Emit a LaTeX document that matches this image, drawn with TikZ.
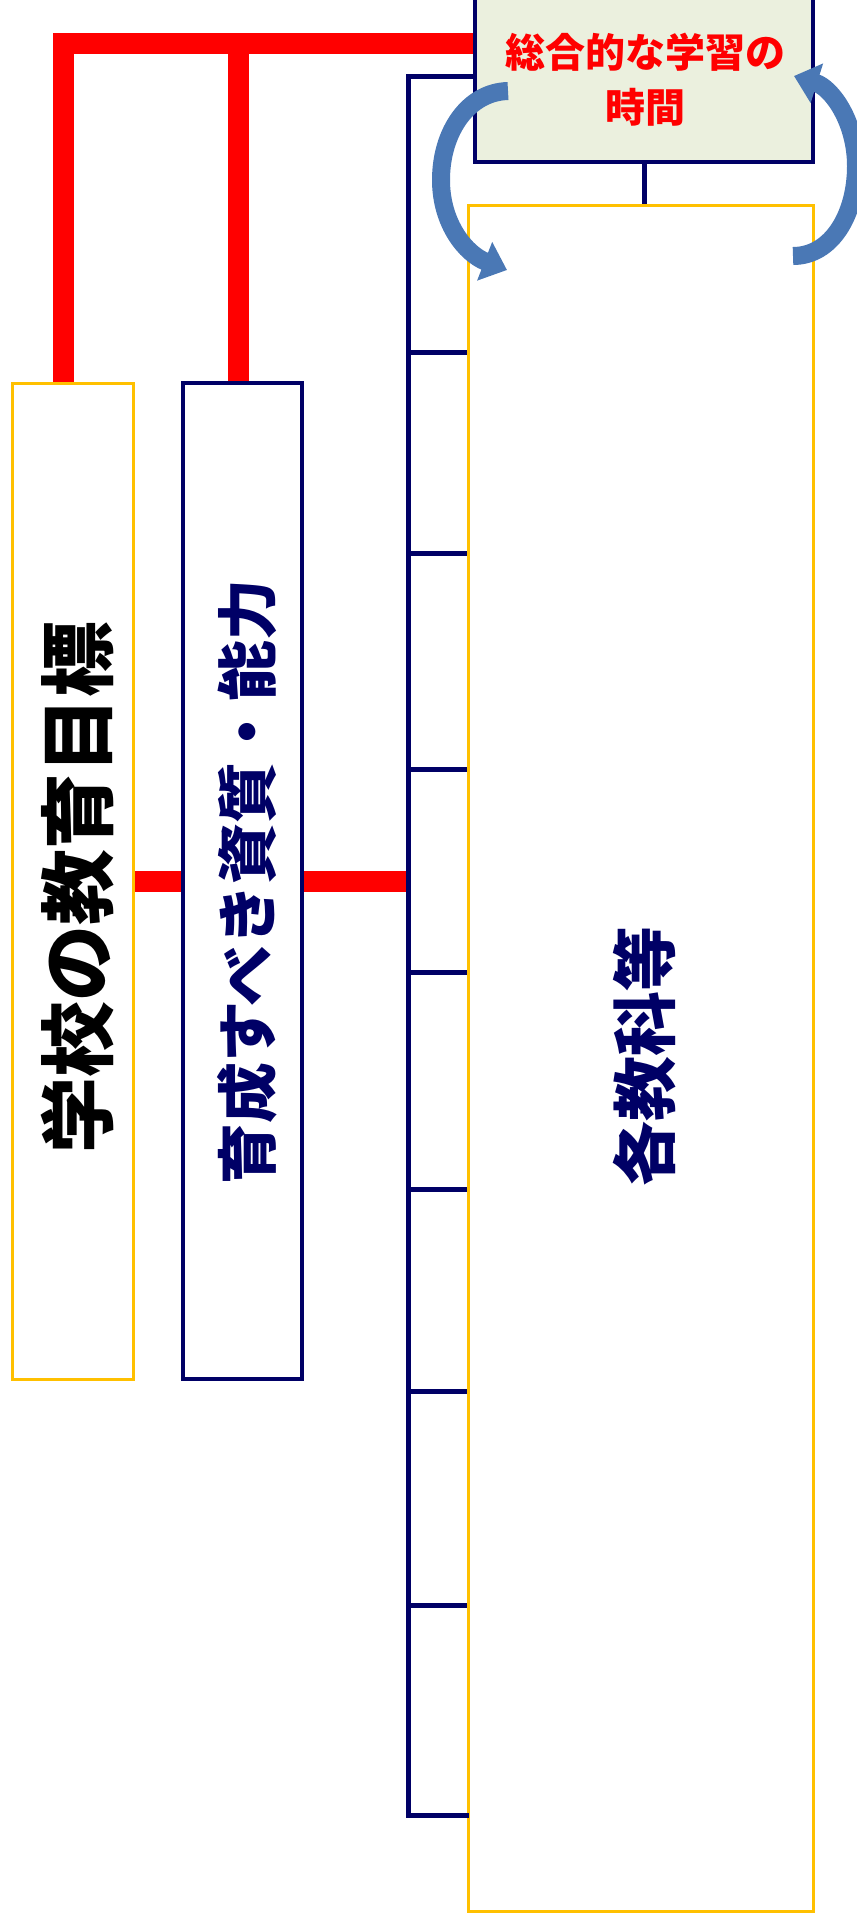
\documentclass[tikz,border=0pt]{standalone}
\usepackage{fontspec}
\newfontfamily\jpfont{Noto Sans CJK JP}
\usepackage{tikz}
\usetikzlibrary{shapes}
\usetikzlibrary{arrows.meta}
\usepackage{xcolor}

\definecolor{navy}{RGB}{0,0,102}
\definecolor{gold}{RGB}{255,192,0}
\definecolor{paleolive}{RGB}{235,240,222}
\definecolor{arrowblue}{RGB}{74,120,181}
\definecolor{arrowedge}{RGB}{56,93,138}

\tikzset{
  goldbox/.style={draw=gold, line width=3pt, rectangle, inner sep=0pt},
  navybox/.style={draw=navy, line width=4pt, rectangle, inner sep=0pt},
  redline/.style={draw=red, line width=21pt},
  navyline/.style={draw=navy, line width=5pt},
  bluearrow/.style={draw=arrowblue, line width=18pt, -{Triangle[width=40pt,length=24pt]}},
}

\begin{document}
\begin{tikzpicture}[x=1pt,y=-1pt]
\useasboundingbox (0,0) rectangle (857,1923);
\clip (0,0) rectangle (857,1923);

\node[goldbox, minimum width=121pt, minimum height=996pt] (goal) at (72.5,881) {};
\node[rotate=90, font=\jpfont\bfseries\fontsize{76}{76}\selectfont] (goaltxt) at (78,887) {学校の教育目標};
\node[navybox, minimum width=119pt, minimum height=996pt] (skill) at (242.5,881) {};
\node[rotate=90, text=navy, font=\jpfont\bfseries\fontsize{61}{61}\selectfont] (skilltxt) at (247,882) {育成すべき資質・能力};
\node[goldbox, minimum width=345pt, minimum height=1706pt] (subj) at (640.5,1058) {};
\node[rotate=90, text=navy, font=\jpfont\bfseries\fontsize{65}{65}\selectfont] (subjtxt) at (645,1056) {各教科等};
\node[navybox, fill=paleolive, minimum width=338pt, minimum height=180pt] (sogo) at (644,72) {};
\node[text=red, align=center, font=\jpfont\bfseries\fontsize{40}{55}\selectfont] (sogotxt) at (645,80) {総合的な学習の\\時間};

\coordinate (top) at (63,43);
\coordinate (mid) at (238,43);
\coordinate (brk) at (408,76);
\coordinate (brkend) at (408,1815);

\begin{scope}
\draw[redline] (goal.north -| top) -- (top) -- (top -| sogo.west);
\draw[redline] (skill.north -| mid) -- (mid);
\draw[redline] (goal.east) -- (skill.west);
\draw[redline] (skill.east) -- (skill.east -| brk);
\end{scope}

\draw[navyline, line cap=rect] (sogo.west |- brk) -- (brk) -- (brkend) -- (brkend -| subj.west);
\foreach \y in {352,553,769,972,1189,1391,1605}
  \draw[navyline] (brk |- 0,\y) -- (subj.west |- 0,\y);
\draw[navyline] (sogo.south) -- (sogo.south |- subj.north);

% curved arrows
\coordinate (la) at (508,91);
\coordinate (lb) at (507,270);
\coordinate (ra) at (793,256);
\coordinate (rb) at (794,76);
\draw[bluearrow] (la) .. controls (468,92) and (441,132) .. (441,180) .. controls (441,224) and (466,254) .. (lb);
\draw[bluearrow] (ra) .. controls (832,256) and (856,214) .. (856,166) .. controls (856,122) and (832,88) .. (rb);

\end{tikzpicture}
\end{document}
